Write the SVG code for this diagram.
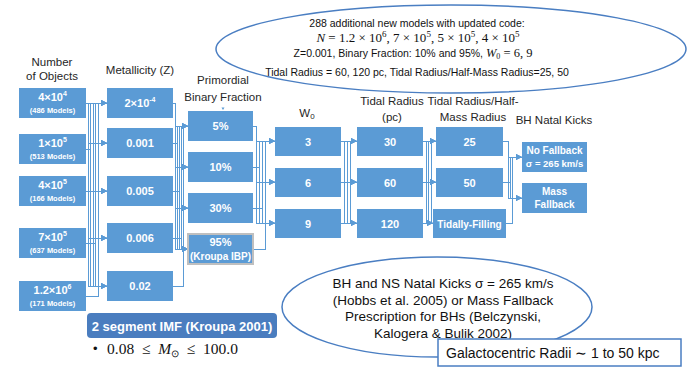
<svg xmlns="http://www.w3.org/2000/svg" width="692" height="389" viewBox="0 0 692 389">
<defs>
<style>
.bx{fill:#5B9BD5;}
.bt{fill:#fff;font-family:"Liberation Sans",Arial,sans-serif;font-weight:bold;font-size:11px;text-anchor:middle;}
.sm{font-size:7.5px;}
.lb{fill:#262626;font-family:"Liberation Sans",Arial,sans-serif;font-size:11.5px;text-anchor:middle;}
.et{fill:#111;font-family:"Liberation Sans",Arial,sans-serif;font-size:10.5px;text-anchor:middle;}
.mt{font-family:"Liberation Serif","Times New Roman",serif;}
.bt2{fill:#111;font-family:"Liberation Sans",Arial,sans-serif;font-size:13.5px;text-anchor:middle;}
.c polyline{fill:none;stroke:#5B9BD5;stroke-width:1;marker-end:url(#a);shape-rendering:crispEdges;}
</style>
<marker id="a" viewBox="0 0 6 6" refX="6" refY="3" markerWidth="6" markerHeight="6" markerUnits="userSpaceOnUse" orient="auto"><path d="M0,0L6,3L0,6z" fill="#5B9BD5"/></marker>
</defs>
<rect width="692" height="389" fill="#fff"/>

<!-- top ellipse -->
<g id="note-top">
<ellipse cx="451" cy="49" rx="235" ry="44" fill="#fff" stroke="#4A7EC2" stroke-width="1.5"/>
<text class="et" x="417" y="27">288 additional new models with updated code:</text>
<text class="et mt" x="418" y="42" style="font-size:13px"><tspan font-style="italic">N</tspan> = 1.2  × 10<tspan dy="-5" font-size="9">6</tspan><tspan dy="5">, 7 × 10</tspan><tspan dy="-5" font-size="9">5</tspan><tspan dy="5">, 5 × 10</tspan><tspan dy="-5" font-size="9">5</tspan><tspan dy="5">, 4 × 10</tspan><tspan dy="-5" font-size="9">5</tspan></text>
<text class="et" x="413" y="57">Z=0.001, Binary Fraction: 10% and 95%, <tspan class="mt" font-style="italic" style="font-size:12.5px">W</tspan><tspan class="mt" style="font-size:8px" dy="2">0</tspan><tspan class="mt" style="font-size:12.5px" dy="-2"> = 6, 9</tspan></text>
<text class="et" x="417" y="76">Tidal Radius = 60, 120 pc, Tidal Radius/Half-Mass Radius=25, 50</text>
</g>

<!-- column labels -->
<g id="labels">
<text class="lb" x="52" y="66">Number</text>
<text class="lb" x="52" y="80">of Objects</text>
<text class="lb" x="140" y="74">Metallicity (Z)</text>
<text class="lb" x="223" y="84">Primordial</text>
<text class="lb" x="223" y="101">Binary Fraction</text>
<text class="lb" x="307" y="117">W<tspan font-size="8" dy="2">0</tspan></text>
<text class="lb" x="392" y="105">Tidal Radius</text>
<text class="lb" x="392" y="121">(pc)</text>
<text class="lb" x="473" y="105">Tidal Radius/Half-</text>
<text class="lb" x="473" y="121">Mass Radius</text>
<text class="lb" x="554" y="124">BH Natal Kicks</text>
</g>

<!-- connectors -->
<g id="connectors" class="c">
<!-- N -> Z -->
<polyline points="86,103 88,103 88,103 107,103"/>
<polyline points="86,103 88,103 88,143 107,143"/>
<polyline points="86,103 88,103 88,191 107,191"/>
<polyline points="86,103 88,103 88,238 107,238"/>
<polyline points="86,103 88,103 88,286 107,286"/>
<polyline points="86,149 90,149 90,103 107,103"/>
<polyline points="86,149 90,149 90,143 107,143"/>
<polyline points="86,149 90,149 90,191 107,191"/>
<polyline points="86,149 90,149 90,238 107,238"/>
<polyline points="86,149 90,149 90,286 107,286"/>
<polyline points="86,191 93,191 93,103 107,103"/>
<polyline points="86,191 93,191 93,143 107,143"/>
<polyline points="86,191 93,191 93,191 107,191"/>
<polyline points="86,191 93,191 93,238 107,238"/>
<polyline points="86,191 93,191 93,286 107,286"/>
<polyline points="86,243 95,243 95,103 107,103"/>
<polyline points="86,243 95,243 95,143 107,143"/>
<polyline points="86,243 95,243 95,191 107,191"/>
<polyline points="86,243 95,243 95,238 107,238"/>
<polyline points="86,243 95,243 95,286 107,286"/>
<polyline points="86,296 98,296 98,103 107,103"/>
<polyline points="86,296 98,296 98,143 107,143"/>
<polyline points="86,296 98,296 98,191 107,191"/>
<polyline points="86,296 98,296 98,238 107,238"/>
<polyline points="86,296 98,296 98,286 107,286"/>
<!-- Z -> B -->
<polyline points="173,103 175,103 175,126 188,126"/>
<polyline points="173,103 175,103 175,167 188,167"/>
<polyline points="173,103 175,103 175,208 188,208"/>
<polyline points="173,103 175,103 175,249 188,249"/>
<polyline points="173,143 177,143 177,126 188,126"/>
<polyline points="173,143 177,143 177,167 188,167"/>
<polyline points="173,143 177,143 177,208 188,208"/>
<polyline points="173,143 177,143 177,249 188,249"/>
<polyline points="173,191 179,191 179,126 188,126"/>
<polyline points="173,191 179,191 179,167 188,167"/>
<polyline points="173,191 179,191 179,208 188,208"/>
<polyline points="173,191 179,191 179,249 188,249"/>
<polyline points="173,238 181,238 181,126 188,126"/>
<polyline points="173,238 181,238 181,167 188,167"/>
<polyline points="173,238 181,238 181,208 188,208"/>
<polyline points="173,238 181,238 181,249 188,249"/>
<polyline points="173,286 183,286 183,126 188,126"/>
<polyline points="173,286 183,286 183,167 188,167"/>
<polyline points="173,286 183,286 183,208 188,208"/>
<polyline points="173,286 183,286 183,249 188,249"/>
<!-- B -> W -->
<polyline points="253,126 256,126 256,141 275,141"/>
<polyline points="253,126 256,126 256,182 275,182"/>
<polyline points="253,126 256,126 256,223 275,223"/>
<polyline points="253,167 259,167 259,141 275,141"/>
<polyline points="253,167 259,167 259,182 275,182"/>
<polyline points="253,167 259,167 259,223 275,223"/>
<polyline points="253,208 262,208 262,141 275,141"/>
<polyline points="253,208 262,208 262,182 275,182"/>
<polyline points="253,208 262,208 262,223 275,223"/>
<polyline points="253,249 265,249 265,141 275,141"/>
<polyline points="253,249 265,249 265,182 275,182"/>
<polyline points="253,249 265,249 265,223 275,223"/>
<!-- W -> T -->
<polyline points="341,141 344,141 344,141 357,141"/>
<polyline points="341,141 344,141 344,182 357,182"/>
<polyline points="341,141 344,141 344,223 357,223"/>
<polyline points="341,182 347,182 347,141 357,141"/>
<polyline points="341,182 347,182 347,182 357,182"/>
<polyline points="341,182 347,182 347,223 357,223"/>
<polyline points="341,223 350,223 350,141 357,141"/>
<polyline points="341,223 350,223 350,182 357,182"/>
<polyline points="341,223 350,223 350,223 357,223"/>
<!-- T -> H -->
<polyline points="423,141 426,141 426,141 436,141"/>
<polyline points="423,141 426,141 426,182 436,182"/>
<polyline points="423,141 426,141 426,223 433,223"/>
<polyline points="423,182 428,182 428,141 436,141"/>
<polyline points="423,182 428,182 428,182 436,182"/>
<polyline points="423,182 428,182 428,223 433,223"/>
<polyline points="423,223 431,223 431,141 436,141"/>
<polyline points="423,223 431,223 431,182 436,182"/>
<polyline points="423,223 431,223 431,223 433,223"/>
<!-- H -> K -->
<polyline points="503,141 508,141 508,157 522,157"/>
<polyline points="503,141 508,141 508,198 522,198"/>
<polyline points="503,182 510,182 510,157 522,157"/>
<polyline points="503,182 510,182 510,198 522,198"/>
<polyline points="506,223 512,223 512,157 522,157"/>
<polyline points="506,223 512,223 512,198 522,198"/>
</g>

<!-- Number of objects -->
<g id="n-4e4"><rect class="bx" x="19" y="88" width="67" height="30"/><text class="bt" x="52.5" y="101">4×10<tspan font-size="7" dy="-5">4</tspan></text><text class="bt sm" x="52.5" y="113">(486 Models)</text></g>
<g id="n-1e5"><rect class="bx" x="19" y="134" width="67" height="30"/><text class="bt" x="52.5" y="147">1×10<tspan font-size="7" dy="-5">5</tspan></text><text class="bt sm" x="52.5" y="159">(513 Models)</text></g>
<g id="n-4e5"><rect class="bx" x="19" y="176" width="67" height="30"/><text class="bt" x="52.5" y="189">4×10<tspan font-size="7" dy="-5">5</tspan></text><text class="bt sm" x="52.5" y="201">(166 Models)</text></g>
<g id="n-7e5"><rect class="bx" x="19" y="228" width="67" height="30"/><text class="bt" x="52.5" y="241">7×10<tspan font-size="7" dy="-5">5</tspan></text><text class="bt sm" x="52.5" y="253">(637 Models)</text></g>
<g id="n-1.2e6"><rect class="bx" x="19" y="281" width="67" height="30"/><text class="bt" x="52.5" y="294">1.2×10<tspan font-size="7" dy="-5">6</tspan></text><text class="bt sm" x="52.5" y="306">(171 Models)</text></g>

<!-- Metallicity -->
<g id="z-2e-4"><rect class="bx" x="107" y="88" width="66" height="30"/><text class="bt" x="140" y="107">2×10<tspan font-size="7" dy="-5">-4</tspan></text></g>
<g id="z-0.001"><rect class="bx" x="107" y="128" width="66" height="30"/><text class="bt" x="140" y="147">0.001</text></g>
<g id="z-0.005"><rect class="bx" x="107" y="176" width="66" height="30"/><text class="bt" x="140" y="195">0.005</text></g>
<g id="z-0.006"><rect class="bx" x="107" y="223" width="66" height="30"/><text class="bt" x="140" y="242">0.006</text></g>
<g id="z-0.02"><rect class="bx" x="107" y="271" width="66" height="30"/><text class="bt" x="140" y="290">0.02</text></g>

<!-- Binary fraction -->
<g id="b-5"><rect class="bx" x="188" y="111" width="65" height="30"/><path d="M221.5,107.5h3l-1.5,2.5z" fill="#5B9BD5"/><text class="bt" x="220.5" y="130">5%</text></g>
<g id="b-10"><rect class="bx" x="188" y="152" width="65" height="30"/><text class="bt" x="220.5" y="171">10%</text></g>
<g id="b-30"><rect class="bx" x="188" y="193" width="65" height="30"/><text class="bt" x="220.5" y="212">30%</text></g>
<g id="b-95"><rect class="bx" x="188" y="234" width="65" height="30" stroke="#BFBFBF" stroke-width="2"/><text class="bt" x="220.5" y="246">95%</text><text class="bt" x="220.5" y="260" style="font-size:10px">(Kroupa IBP)</text></g>

<!-- W0 -->
<g id="w-3"><rect class="bx" x="275" y="127" width="66" height="29"/><text class="bt" x="308" y="145.5">3</text></g>
<g id="w-6"><rect class="bx" x="275" y="168" width="66" height="29"/><text class="bt" x="308" y="186.5">6</text></g>
<g id="w-9"><rect class="bx" x="275" y="209" width="66" height="29"/><text class="bt" x="308" y="227.5">9</text></g>

<!-- Tidal radius -->
<g id="t-30"><rect class="bx" x="357" y="127" width="66" height="29"/><text class="bt" x="390" y="145.5">30</text></g>
<g id="t-60"><rect class="bx" x="357" y="168" width="66" height="29"/><text class="bt" x="390" y="186.5">60</text></g>
<g id="t-120"><rect class="bx" x="357" y="209" width="66" height="29"/><text class="bt" x="390" y="227.5">120</text></g>

<!-- Tidal/half-mass -->
<g id="h-25"><rect class="bx" x="436" y="127" width="67" height="29"/><text class="bt" x="469.5" y="145.5">25</text></g>
<g id="h-50"><rect class="bx" x="436" y="168" width="67" height="29"/><text class="bt" x="469.5" y="186.5">50</text></g>
<g id="h-tf"><rect class="bx" x="433" y="209" width="73" height="29"/><text class="bt" x="469.5" y="227.5" style="font-size:10px">Tidally-Filling</text></g>

<!-- BH natal kicks -->
<g id="k-nofb"><rect class="bx" x="522" y="142" width="65" height="30"/><text class="bt" x="554.5" y="154" style="font-size:10px">No Fallback</text><text class="bt" x="554.5" y="167" style="font-size:9.5px">σ = 265 km/s</text></g>
<g id="k-massfb"><rect class="bx" x="522" y="183" width="65" height="30"/><text class="bt" x="554.5" y="195" style="font-size:10px">Mass</text><text class="bt" x="554.5" y="208" style="font-size:10px">Fallback</text></g>

<!-- IMF -->
<g id="imf">
<rect x="87" y="313" width="190" height="25" rx="4" fill="#4A7DBF"/>
<text class="bt" x="182" y="330.5" style="font-size:13px">2 segment IMF (Kroupa 2001)</text>
<text x="93" y="353" font-family="Liberation Sans,Arial,sans-serif" font-size="13" fill="#111">•</text>
<text class="mt" x="107" y="354" font-size="15.5" fill="#111" xml:space="preserve">0.08  ≤  <tspan font-style="italic">M</tspan><tspan font-size="10" dy="3">⊙</tspan><tspan dy="-3">  ≤  100.0</tspan></text>
</g>

<!-- bottom ellipse -->
<g id="note-bh">
<ellipse cx="437" cy="307" rx="155" ry="50" fill="#fff" stroke="#4A7EC2" stroke-width="1.5"/>
<text class="bt2" x="443" y="288">BH and NS Natal Kicks σ = 265 km/s</text>
<text class="bt2" x="443" y="304.5">(Hobbs et al. 2005) or Mass Fallback</text>
<text class="bt2" x="443" y="321">Prescription for BHs (Belczynski,</text>
<text class="bt2" x="443" y="337.5">Kalogera &amp; Bulik 2002)</text>
</g>

<!-- galactocentric -->
<g id="galacto">
<rect x="438" y="339" width="243" height="27" fill="#fff" stroke="#4A7EC2" stroke-width="1.5"/>
<text x="446" y="358" font-family="Liberation Sans,Arial,sans-serif" font-size="14" fill="#111">Galactocentric Radii ∼ 1 to 50 kpc</text>
</g>
</svg>
